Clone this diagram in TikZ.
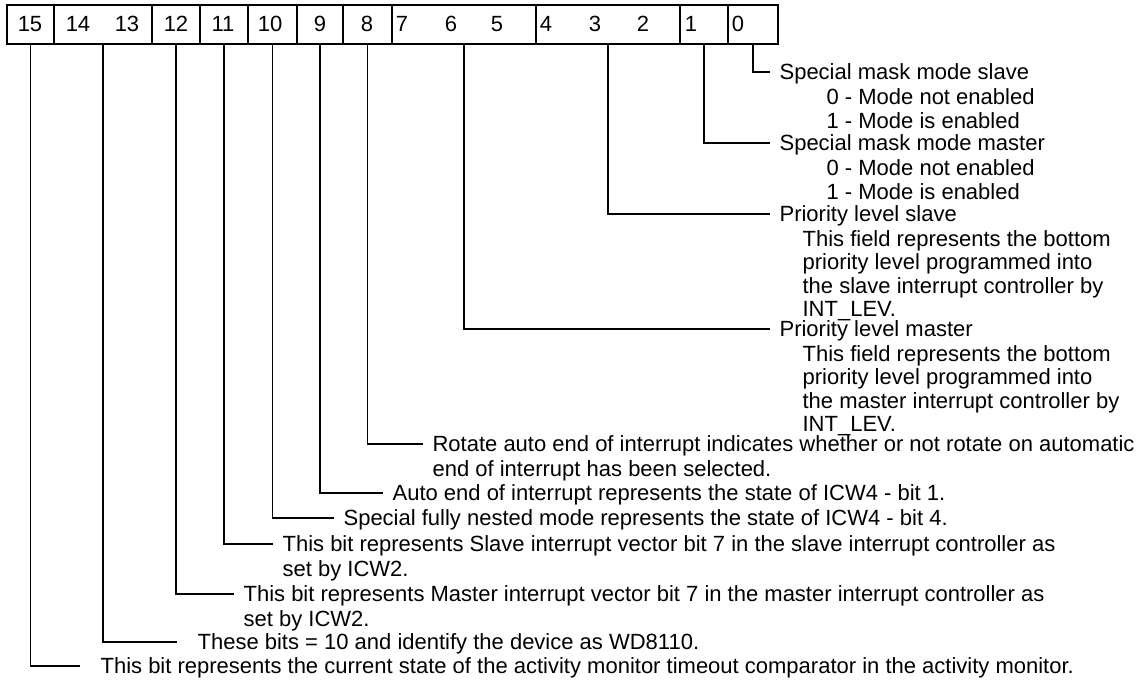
\documentclass[tikz,border=0pt]{standalone}
\usepackage{fontspec}
\setmainfont{Liberation Sans}

\begin{document}
\begin{tikzpicture}[x=1pt,y=-1pt,line width=1.2pt,
  field/.style={draw,anchor=north west,minimum height=39pt,inner sep=0pt,outer sep=0pt},
  bitno/.style={anchor=base,inner sep=0pt,font=\fontsize{22}{24}\selectfont},
  head/.style={anchor=west,inner xsep=9pt,inner ysep=0pt,text height=15.8pt,text depth=0pt,font=\fontsize{22}{24}\selectfont},
  body/.style={anchor=north west,inner sep=0pt,align=left,font=\fontsize{22}{23.5}\selectfont}]
  \useasboundingbox (0,0) rectangle (1145,681);
  % register fields
  \node[field,minimum width=47pt] (f15) at (7,5) {};
  \node[field,minimum width=98pt] (f1413) at (54,5) {};
  \node[field,minimum width=48pt] (f12) at (152,5) {};
  \node[field,minimum width=48pt] (f11) at (200,5) {};
  \node[field,minimum width=49pt] (f10) at (248,5) {};
  \node[field,minimum width=46pt] (f9) at (297,5) {};
  \node[field,minimum width=49pt] (f8) at (343,5) {};
  \node[field,minimum width=144pt] (f75) at (392,5) {};
  \node[field,minimum width=144pt] (f42) at (536,5) {};
  \node[field,minimum width=48pt] (f1) at (680,5) {};
  \node[field,minimum width=50pt] (f0) at (728,5) {};
  % bit numbers
  \foreach \b/\x in {15/30,14/78,13/127,12/176,11/223,10/270,9/320,8/367,
                     7/402,6/451,5/497,4/546,3/595,2/643,1/691,0/738}
    \node[bitno] (n\b) at (\x,31.5) {\b};
  % descriptions
  \node[head] (h0) at (770,72) {Special mask mode slave};
  \node[body] (b0) at (826,88) {0 - Mode not enabled\\1 - Mode is enabled};
  \node[head] (h1) at (770,143) {Special mask mode master};
  \node[body] (b1) at (826,159) {0 - Mode not enabled\\1 - Mode is enabled};
  \node[head] (h42) at (770,214) {Priority level slave};
  \node[body] (b42) at (802,229.5) {This field represents the bottom\\priority level programmed into\\the slave interrupt controller by\\INT\_LEV.};
  \node[head] (h75) at (770,329) {Priority level master};
  \node[body] (b75) at (802,344.5) {This field represents the bottom\\priority level programmed into\\the master interrupt controller by\\INT\_LEV.};
  \node[head] (h8) at (423,444) {Rotate auto end of interrupt indicates whether or not rotate on automatic};
  \node[body] (b8) at (432,460) {end of interrupt has been selected.};
  \node[head] (h9) at (383,493) {Auto end of interrupt represents the state of ICW4 - bit 1.};
  \node[head] (h10) at (334,518) {Special fully nested mode represents the state of ICW4 - bit 4.};
  \node[head] (h11) at (273,544) {This bit represents Slave interrupt vector bit 7 in the slave interrupt controller as};
  \node[body] (b11) at (282,560) {set by ICW2.};
  \node[head] (h12) at (234,594) {This bit represents Master interrupt vector bit 7 in the master interrupt controller as};
  \node[body] (b12) at (243,610) {set by ICW2.};
  \node[head,inner xsep=20pt] (h1413) at (177,642) {These bits = 10 and identify the device as WD8110.};
  \node[head,inner xsep=20pt] (h15) at (80,666) {This bit represents the current state of the activity monitor timeout comparator in the activity monitor.};
  % connectors
  \foreach \f/\h in {f0/h0,f1/h1,f42/h42,f75/h75,f8/h8,f9/h9,f10/h10,
                     f11/h11,f12/h12,f1413/h1413,f15/h15}
    \draw (\f.south) |- (\h.west);
\end{tikzpicture}
\end{document}
